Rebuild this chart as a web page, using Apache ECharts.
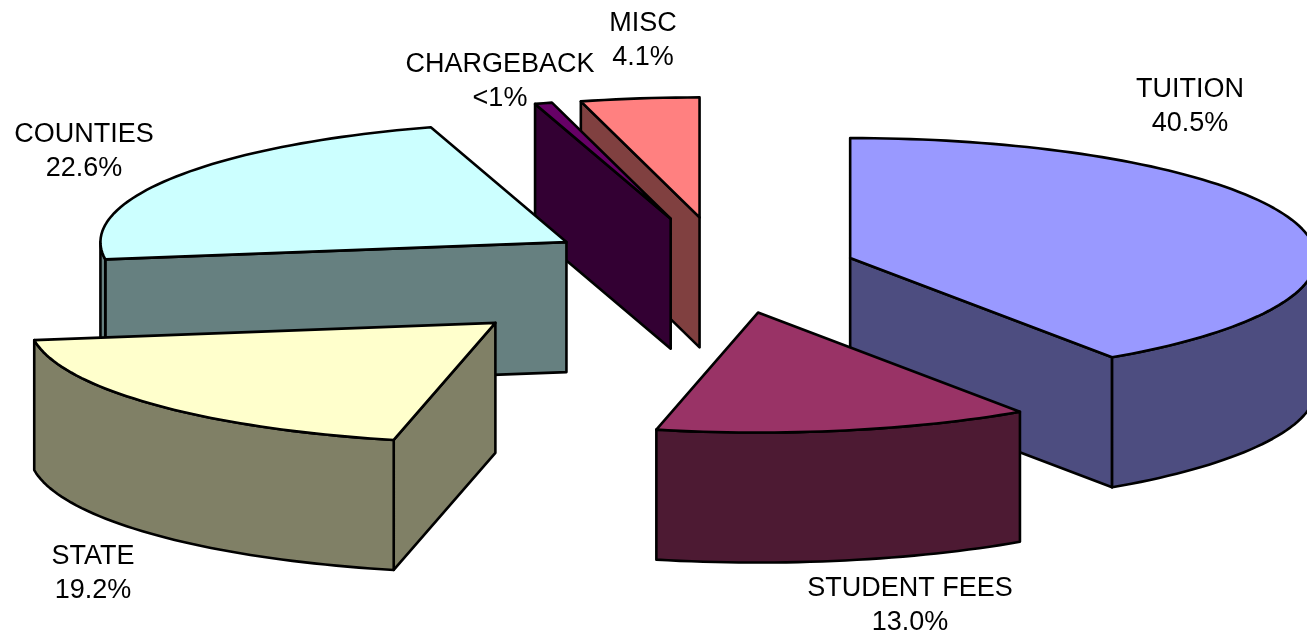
<!DOCTYPE html>
<html>
<head>
<meta charset="utf-8">
<style>html,body{margin:0;padding:0;background:#fff}#c{width:1307px;height:635px}</style>
<script src="https://cdn.jsdelivr.net/npm/echarts@6/dist/echarts.min.js"></script>
</head>
<body>
<div id="c"></div>
<script>
// Data
var categories = ['TUITION', 'STUDENT FEES', 'STATE', 'COUNTIES', 'CHARGEBACK', 'MISC'];
var shares = [40.5, 13.0, 19.2, 22.6, 0.6, 4.1];
var explode = [0.281, 0.378, 0.672, 0.403, 0.427, 0.425];
var topColors = ['#9999FF', '#993366', '#FFFFCC', '#CCFFFF', '#660066', '#FF8080'];
var sideColors = ['#4D4D80', '#4D1A33', '#808066', '#668080', '#330033', '#804040'];
var labelCentres = [[1190, 107], [910, 606], [93, 574], [84, 152], [500, 82], [643, 41]];

// Projection of the pie onto the page
var CX = 725, CY = 268, RX = 466, RY = 120, DEPTH = 130, STROKE = 2.6;
var total = shares.reduce(function (a, b) { return a + b; }, 0);

function rim(o, deg, drop) {
  var t = deg * Math.PI / 180;
  return [o[0] + RX * Math.sin(t), o[1] - RY * Math.cos(t) + (drop || 0)];
}
function arcPts(o, a, b, drop) {
  var n = Math.max(2, Math.ceil(Math.abs(b - a) / 1.5)), pts = [];
  for (var i = 0; i <= n; i++) pts.push(rim(o, a + (b - a) * i / n, drop));
  return pts;
}
function face(points, fill, z2) {
  return {
    type: 'polygon', z2: z2,
    shape: { points: points },
    style: { fill: fill, stroke: '#000', lineWidth: STROKE, lineJoin: 'round' }
  };
}
var startAngles = [];
shares.reduce(function (acc, v, i) { startAngles[i] = acc; return acc + v / total * 360; }, 0);

function renderSlice(params, api) {
  var i = params.dataIndex;
  var share = api.value(0);
  var a0 = startAngles[i], a1 = a0 + share / total * 360, mid = (a0 + a1) / 2;
  var t = mid * Math.PI / 180, e = explode[i];
  var o = [CX + e * RX * Math.sin(t), CY - e * RY * Math.cos(t)];
  var z = Math.round(o[1]) * 10 + i;
  var kids = [];
  var side = sideColors[i];

  function radial(deg) {
    var p = rim(o, deg);
    kids.push(face([o, p, [p[0], p[1] + DEPTH], [o[0], o[1] + DEPTH]], side, z));
  }
  if (Math.sin(a0 * Math.PI / 180) < -1e-6) radial(a0);
  if (Math.sin(a1 * Math.PI / 180) > 1e-6) radial(a1);

  var v0 = Math.max(a0, 90), v1 = Math.min(a1, 270);
  if (v1 > v0) {
    kids.push(face(arcPts(o, v0, v1, 0).concat(arcPts(o, v1, v0, DEPTH)), side, z));
  }
  kids.push(face([o].concat(arcPts(o, a0, a1, 0)), topColors[i], z + 1));

  var c = labelCentres[i];
  var pct = share < 1 ? '<1%' : share.toFixed(1) + '%';
  kids.push({
    type: 'text', z2: 100000,
    style: {
      x: c[0], y: c[1], text: categories[i] + '\n' + pct,
      align: 'center', verticalAlign: 'middle', lineHeight: 34,
      font: '27px "Liberation Sans", Arial, sans-serif', fill: '#000'
    }
  });
  return { type: 'group', children: kids };
}

var chart = echarts.init(document.getElementById('c'), null, { renderer: 'canvas' });
chart.setOption({
  animation: false,
  backgroundColor: '#fff',
  series: [{
    type: 'custom',
    coordinateSystem: 'none',
    clip: false,
    renderItem: renderSlice,
    data: shares.map(function (v, i) { return { name: categories[i], value: [v] }; })
  }]
});
</script>
</body>
</html>
